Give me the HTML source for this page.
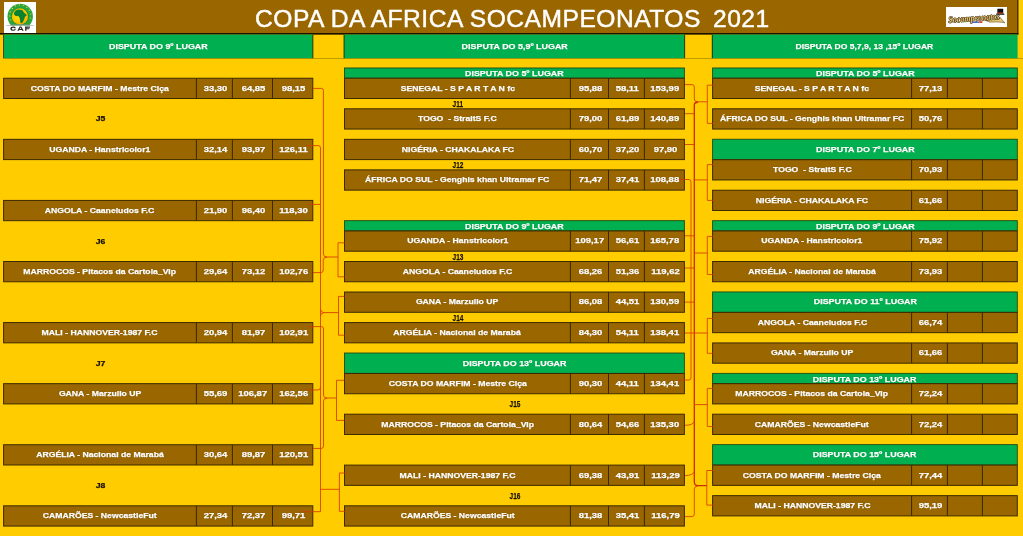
<!DOCTYPE html><html><head><meta charset="utf-8"><title>Copa da Africa</title><style>
html,body{margin:0;padding:0}
body{width:1023px;height:536px;position:relative;overflow:hidden;background:#FFCC00;font-family:"Liberation Sans",sans-serif}
.b,.r,.g,.v,.t,.j,.lg,.cn,.title{position:absolute}
.r{background:#996600;box-sizing:border-box;border:1px solid #3d2a00}
.g{background:#00B050;box-sizing:border-box;border:1px solid #2d5a10;border-bottom:none}
.v{width:1px;background:#3d2a00}
.t{color:#fff;font-weight:bold;font-size:8px;-webkit-text-stroke:0.25px #fff;text-align:center;white-space:nowrap;text-shadow:0 0 1px rgba(70,45,0,.55)}
.t span,.j span{display:inline-block;transform:scaleX(1.082);transform-origin:50% 50%}
.t.n{font-size:7.9px}
.t.n span{transform:translateX(0.6px) scaleX(1.2)}
.t.s,.t.h{text-shadow:0 0 1px rgba(0,60,20,.5)}
.t.s span,.t.h span{transform:scaleX(1.113)}
.t.h.w span{transform:scaleX(1.07)}
.j.jn{font-size:9px}
.j.jn span{transform:translateX(0.5px) scaleX(0.72)}
.j{-webkit-text-stroke:0.25px #1a1200;color:#1a1200;font-weight:bold;font-size:8px;text-align:center;white-space:nowrap}
.title{top:0;height:34px;line-height:37px;text-align:left;color:#fff;font-size:24.6px;letter-spacing:0.5px;white-space:nowrap;-webkit-text-stroke:0.45px #fff}
.sc{position:absolute;left:944.5px;top:13.2px;width:58px;height:11px;line-height:11px;font-family:"Liberation Serif",serif;font-weight:bold;font-style:italic;font-size:9px;color:#e6c678;white-space:nowrap;transform:rotate(-4.2deg) scaleX(0.88);transform-origin:50% 50%;text-shadow:0.5px 0 0 #4a3818,-0.5px 0 0 #4a3818,0 0.5px 0 #4a3818,0 -0.5px 0 #4a3818,0.4px 0.4px 0 #4a3818,-0.4px -0.4px 0 #4a3818}
.cn{left:0;top:0}
.tx{position:absolute;left:0;top:0;width:1023px;height:536px;will-change:transform}
.sh rect.r{fill:#996600;stroke:#3c2a00;stroke-width:1}
.sh rect.g{fill:#00B050;stroke:#1f4a14;stroke-width:0.9}
.sh path.v{stroke:#3a2800;stroke-width:1;fill:none}
.cn path{fill:none;stroke:#D63A00;stroke-width:0.85}
.cn path.m{stroke:#CC3000;stroke-width:1.35}
</style></head><body>

<svg class="cn sh" width="1023" height="536" viewBox="0 0 1023 536"><rect x="0" y="0" width="1017.9" height="33.3" fill="#996600"/><rect x="0" y="33" width="1018.4" height="1.65" fill="#1a1200"/><rect x="1017.4" y="0" width="1" height="34.6" fill="#1a1200"/><rect x="3" y="34.4" width="1" height="24" fill="#4a4418"/><rect x="4" y="34.6" width="308.8" height="23.7" fill="#00B050"/><rect x="344" y="34.6" width="340.6" height="23.7" fill="#00B050"/><rect x="712" y="34.6" width="305.6" height="23.7" fill="#00B050"/><rect x="312.4" y="34.8" width="0.9" height="23.5" fill="#1c2806"/><rect x="343.6" y="34.8" width="0.9" height="23.5" fill="#1c2806"/><rect x="684.2" y="34.8" width="0.9" height="23.5" fill="#1c2806"/><rect x="711.8" y="34.8" width="0.9" height="23.5" fill="#1c2806"/><rect x="4" y="58.1" width="1019" height="0.8" fill="rgba(110,95,0,.55)"/><rect class="r" x="3.60" y="78.26" width="309.20" height="20.26"/><path class="v" d="M196.40,78.26 V98.52"/><path class="v" d="M232.40,78.26 V98.52"/><path class="v" d="M272.50,78.26 V98.52"/><rect class="r" x="3.60" y="139.34" width="309.20" height="20.26"/><path class="v" d="M196.40,139.34 V159.60"/><path class="v" d="M232.40,139.34 V159.60"/><path class="v" d="M272.50,139.34 V159.60"/><rect class="r" x="3.60" y="200.42" width="309.20" height="20.26"/><path class="v" d="M196.40,200.42 V220.68"/><path class="v" d="M232.40,200.42 V220.68"/><path class="v" d="M272.50,200.42 V220.68"/><rect class="r" x="3.60" y="261.50" width="309.20" height="20.26"/><path class="v" d="M196.40,261.50 V281.76"/><path class="v" d="M232.40,261.50 V281.76"/><path class="v" d="M272.50,261.50 V281.76"/><rect class="r" x="3.60" y="322.58" width="309.20" height="20.26"/><path class="v" d="M196.40,322.58 V342.84"/><path class="v" d="M232.40,322.58 V342.84"/><path class="v" d="M272.50,322.58 V342.84"/><rect class="r" x="3.60" y="383.66" width="309.20" height="20.26"/><path class="v" d="M196.40,383.66 V403.92"/><path class="v" d="M232.40,383.66 V403.92"/><path class="v" d="M272.50,383.66 V403.92"/><rect class="r" x="3.60" y="444.74" width="309.20" height="20.26"/><path class="v" d="M196.40,444.74 V465.00"/><path class="v" d="M232.40,444.74 V465.00"/><path class="v" d="M272.50,444.74 V465.00"/><rect class="r" x="3.60" y="505.82" width="309.20" height="20.26"/><path class="v" d="M196.40,505.82 V526.08"/><path class="v" d="M232.40,505.82 V526.08"/><path class="v" d="M272.50,505.82 V526.08"/><rect class="g" x="344.50" y="67.98" width="339.90" height="10.18"/><rect class="r" x="344.50" y="78.26" width="339.90" height="20.26"/><path class="v" d="M570.40,78.26 V98.52"/><path class="v" d="M608.50,78.26 V98.52"/><path class="v" d="M644.40,78.26 V98.52"/><rect class="r" x="344.50" y="108.80" width="339.90" height="20.26"/><path class="v" d="M570.40,108.80 V129.06"/><path class="v" d="M608.50,108.80 V129.06"/><path class="v" d="M644.40,108.80 V129.06"/><rect class="r" x="344.50" y="139.34" width="339.90" height="20.26"/><path class="v" d="M570.40,139.34 V159.60"/><path class="v" d="M608.50,139.34 V159.60"/><path class="v" d="M644.40,139.34 V159.60"/><rect class="r" x="344.50" y="169.88" width="339.90" height="20.26"/><path class="v" d="M570.40,169.88 V190.14"/><path class="v" d="M608.50,169.88 V190.14"/><path class="v" d="M644.40,169.88 V190.14"/><rect class="g" x="344.50" y="220.68" width="339.90" height="10.18"/><rect class="r" x="344.50" y="230.96" width="339.90" height="20.26"/><path class="v" d="M570.40,230.96 V251.22"/><path class="v" d="M608.50,230.96 V251.22"/><path class="v" d="M644.40,230.96 V251.22"/><rect class="r" x="344.50" y="261.50" width="339.90" height="20.26"/><path class="v" d="M570.40,261.50 V281.76"/><path class="v" d="M608.50,261.50 V281.76"/><path class="v" d="M644.40,261.50 V281.76"/><rect class="r" x="344.50" y="292.04" width="339.90" height="20.26"/><path class="v" d="M570.40,292.04 V312.30"/><path class="v" d="M608.50,292.04 V312.30"/><path class="v" d="M644.40,292.04 V312.30"/><rect class="r" x="344.50" y="322.58" width="339.90" height="20.26"/><path class="v" d="M570.40,322.58 V342.84"/><path class="v" d="M608.50,322.58 V342.84"/><path class="v" d="M644.40,322.58 V342.84"/><rect class="g" x="344.50" y="353.02" width="339.90" height="20.36"/><rect class="r" x="344.50" y="373.48" width="339.90" height="20.26"/><path class="v" d="M570.40,373.48 V393.74"/><path class="v" d="M608.50,373.48 V393.74"/><path class="v" d="M644.40,373.48 V393.74"/><rect class="r" x="344.50" y="414.20" width="339.90" height="20.26"/><path class="v" d="M570.40,414.20 V434.46"/><path class="v" d="M608.50,414.20 V434.46"/><path class="v" d="M644.40,414.20 V434.46"/><rect class="r" x="344.50" y="465.10" width="339.90" height="20.26"/><path class="v" d="M570.40,465.10 V485.36"/><path class="v" d="M608.50,465.10 V485.36"/><path class="v" d="M644.40,465.10 V485.36"/><rect class="r" x="344.50" y="505.82" width="339.90" height="20.26"/><path class="v" d="M570.40,505.82 V526.08"/><path class="v" d="M608.50,505.82 V526.08"/><path class="v" d="M644.40,505.82 V526.08"/><rect class="g" x="712.60" y="67.98" width="304.70" height="10.18"/><rect class="r" x="712.60" y="78.26" width="304.70" height="20.26"/><path class="v" d="M911.60,78.26 V98.52"/><path class="v" d="M947.40,78.26 V98.52"/><path class="v" d="M982.40,78.26 V98.52"/><rect class="r" x="712.60" y="108.80" width="304.70" height="20.26"/><path class="v" d="M911.60,108.80 V129.06"/><path class="v" d="M947.40,108.80 V129.06"/><path class="v" d="M982.40,108.80 V129.06"/><rect class="g" x="712.60" y="139.24" width="304.70" height="20.36"/><rect class="r" x="712.60" y="159.70" width="304.70" height="20.26"/><path class="v" d="M911.60,159.70 V179.96"/><path class="v" d="M947.40,159.70 V179.96"/><path class="v" d="M982.40,159.70 V179.96"/><rect class="r" x="712.60" y="190.24" width="304.70" height="20.26"/><path class="v" d="M911.60,190.24 V210.50"/><path class="v" d="M947.40,190.24 V210.50"/><path class="v" d="M982.40,190.24 V210.50"/><rect class="g" x="712.60" y="220.68" width="304.70" height="10.18"/><rect class="r" x="712.60" y="230.96" width="304.70" height="20.26"/><path class="v" d="M911.60,230.96 V251.22"/><path class="v" d="M947.40,230.96 V251.22"/><path class="v" d="M982.40,230.96 V251.22"/><rect class="r" x="712.60" y="261.50" width="304.70" height="20.26"/><path class="v" d="M911.60,261.50 V281.76"/><path class="v" d="M947.40,261.50 V281.76"/><path class="v" d="M982.40,261.50 V281.76"/><rect class="g" x="712.60" y="291.94" width="304.70" height="20.36"/><rect class="r" x="712.60" y="312.40" width="304.70" height="20.26"/><path class="v" d="M911.60,312.40 V332.66"/><path class="v" d="M947.40,312.40 V332.66"/><path class="v" d="M982.40,312.40 V332.66"/><rect class="r" x="712.60" y="342.94" width="304.70" height="20.26"/><path class="v" d="M911.60,342.94 V363.20"/><path class="v" d="M947.40,342.94 V363.20"/><path class="v" d="M982.40,342.94 V363.20"/><rect class="g" x="712.60" y="373.38" width="304.70" height="10.18"/><rect class="r" x="712.60" y="383.66" width="304.70" height="20.26"/><path class="v" d="M911.60,383.66 V403.92"/><path class="v" d="M947.40,383.66 V403.92"/><path class="v" d="M982.40,383.66 V403.92"/><rect class="r" x="712.60" y="414.20" width="304.70" height="20.26"/><path class="v" d="M911.60,414.20 V434.46"/><path class="v" d="M947.40,414.20 V434.46"/><path class="v" d="M982.40,414.20 V434.46"/><rect class="g" x="712.60" y="444.64" width="304.70" height="20.36"/><rect class="r" x="712.60" y="465.10" width="304.70" height="20.26"/><path class="v" d="M911.60,465.10 V485.36"/><path class="v" d="M947.40,465.10 V485.36"/><path class="v" d="M982.40,465.10 V485.36"/><rect class="r" x="712.60" y="495.64" width="304.70" height="20.26"/><path class="v" d="M911.60,495.64 V515.90"/><path class="v" d="M947.40,495.64 V515.90"/><path class="v" d="M982.40,495.64 V515.90"/></svg>
<svg class="cn" width="1023" height="536" viewBox="0 0 1023 536"><path d="M313,88.4 H321.5 Q323.4,88.4 323.4,90.5 V254 Q323.4,257 327,257 H338"/><path d="M313,272.6 H321 Q323.2,272.6 323.2,270 V260 Q323.2,257.2 327,257.2"/><path d="M344.5,242.8 H338 V276.8 H344.5"/><path d="M308,145.6 H318.5 Q320.5,145.6 320.5,148 V327"/><path d="M308,204.4 H320.5"/><path d="M320.5,309 Q320.5,312.6 324,312.6 H338.5"/><path d="M320.5,316 Q320.5,312.8 324,312.8"/><path d="M344.5,296.4 H338.5 V335.2 H344.5"/><path d="M308,326.6 H321.5 Q323.5,326.6 323.5,329 V395 Q323.5,398 327,398 H336.5"/><path d="M320.5,327 V511.7 H302"/><path d="M308,390 H318 Q320.5,390 320.5,387"/><path d="M313,448.4 H321.5 Q323.5,448.4 323.5,446 V401 Q323.5,398.3 327,398.3"/><path d="M344.5,380.3 H336.5 V420.4 H344.5"/><path d="M320.6,489.3 H339.4"/><path d="M346,473 H339.4 V511.3 H346"/><path d="M685,84.6 H692 Q694.3,84.6 694.3,87 V99 Q694.3,101.8 698,101.8 H707.3"/><path class="m" d="M698,102.2 Q694.3,102.2 694.3,105 V482 Q694.3,485.6 698,485.6 H706.8"/><path d="M685,113.7 H694.3"/><path d="M685,144.5 H694.3"/><path d="M713.4,85.2 H707.3 V123.4 H713.4"/><path d="M694.3,179.9 H707.3"/><path d="M713.4,164.6 H707.3 V200.4 H713.4"/><path d="M678.4,179.5 H689 Q691,179.5 691,182 V378 Q691,380 689,380 H678.4"/><path d="M685,235.8 H694.3"/><path d="M694.3,253 H707.3"/><path d="M713.4,236.4 H707.3 V274.5 H713.4"/><path d="M685,268 H694.3"/><path d="M685,302.1 H694.3"/><path d="M685,333 H707.3"/><path d="M713.4,318.4 H707.3 V353.3 H713.4"/><path d="M694.3,404.6 H707.3"/><path d="M713.4,388.4 H707.3 V426.5 H713.4"/><path d="M685,425.3 Q693,425.2 694.3,421.5"/><path d="M685,475.6 Q693,475.4 694.3,471.5"/><path d="M685,516.6 H692 Q694.3,516.6 694.3,514 V489 Q694.3,486 698,486"/><path d="M713.4,470.5 H706.8 V505.1 H713.4"/></svg>
<svg class="lg" style="left:3.9px;top:2px" width="32" height="31" viewBox="0 0 320 310">
<defs><radialGradient id="gg" cx="0.45" cy="0.45" r="0.6"><stop offset="0" stop-color="#ffe600"/><stop offset="0.7" stop-color="#f7c400"/><stop offset="1" stop-color="#e59a00"/></radialGradient>
<clipPath id="cc"><rect x="0" y="0" width="320" height="236"/></clipPath></defs>
<rect width="320" height="310" fill="#fff"/>
<g clip-path="url(#cc)"><circle cx="162" cy="144" r="127" fill="#2aa63c"/><circle cx="66.8" cy="178.4" r="7" fill="#d8d13a"/><circle cx="57.1" cy="139.5" r="7" fill="#d8d13a"/><circle cx="62.7" cy="99.8" r="7" fill="#d8d13a"/><circle cx="82.8" cy="65.1" r="7" fill="#d8d13a"/><circle cx="114.3" cy="40.4" r="7" fill="#d8d13a"/><circle cx="152.8" cy="29.4" r="7" fill="#d8d13a"/><circle cx="192.7" cy="33.6" r="7" fill="#d8d13a"/><circle cx="228.1" cy="52.4" r="7" fill="#d8d13a"/><circle cx="253.8" cy="83.1" r="7" fill="#d8d13a"/><circle cx="266.2" cy="121.2" r="7" fill="#d8d13a"/><circle cx="263.4" cy="161.2" r="7" fill="#d8d13a"/>
<circle cx="160" cy="145" r="90" fill="#159238"/>
<circle cx="160" cy="145" r="82" fill="url(#gg)"/>
<path d="M105,97 Q120,78 142,74 L182,80 Q194,92 198,106 L228,130 Q224,142 209,148 Q206,166 199,181 Q192,202 179,212 Q166,212 162,200 Q162,180 156,161 Q150,146 142,141 Q124,144 112,138 Q100,130 99,118 Z" fill="#0b8230"/>
</g>
<path d="M22,236 Q160,214 300,236 Q160,226 22,236 Z" fill="#8a8a8a" stroke="#9a9a9a" stroke-width="3"/>
<g fill="#2e2724" fill-rule="evenodd"><path d="M120,259 Q109,246 92,246 Q64,246 64,267 Q64,288 92,288 Q109,288 120,275 L108,269 Q102,277 92,277 Q78,277 78,267 Q78,257 92,257 Q102,257 108,265 Z"/><path d="M133,288 L157,246 L173,246 L197,288 L182,288 L178,279 L152,279 L148,288 Z M157,269 L173,269 L165,254 Z"/><path d="M211,246 L260,246 L260,257 L225,257 L225,263 L254,263 L254,273 L225,273 L225,288 L211,288 Z"/></g>
</svg>
<svg class="lg" style="left:946px;top:7.1px" width="61" height="20.3" viewBox="0 0 865 288">
<rect width="865" height="288" fill="#fff"/>
<path d="M560,190 Q700,170 770,150 Q800,190 835,225 Q760,205 620,215 Z" fill="#e6c877" stroke="#5a4520" stroke-width="8"/>

<rect x="728" y="24" width="84" height="70" rx="6" fill="#0c0c0c"/><rect x="710" y="92" width="118" height="18" rx="8" fill="#0c0c0c"/><rect x="732" y="78" width="76" height="14" fill="#e03010"/>
<rect x="350" y="206" width="122" height="20" fill="#3a62d0"/><rect x="472" y="201" width="44" height="25" fill="#e03818"/>
</svg>
<div class="tx">
<div class="t h" style="left:4px;top:34.5px;width:308.8px;height:23.5px;line-height:23.5px;"><span>DISPUTA DO 9º LUGAR</span></div>
<div class="t h" style="left:344px;top:34.5px;width:340.6px;height:23.5px;line-height:23.5px;"><span>DISPUTA DO 5,9º LUGAR</span></div>
<div class="t h w" style="left:712px;top:34.5px;width:305.6px;height:23.5px;line-height:23.5px;"><span>DISPUTA DO 5,7,9, 13 ,15º LUGAR</span></div>
<div class="title" style="left:255px;width:446px">COPA DA AFRICA SOCAMPEONATOS</div>
<div class="title" style="left:713px;width:54px">2021</div>
<div class="t" style="left:3.6px;top:78.66px;width:192.8px;height:20.86px;line-height:20.86px;"><span>COSTA DO MARFIM - Mestre Ciça</span></div>
<div class="t n" style="left:196.4px;top:78.66px;width:36.0px;height:20.86px;line-height:20.86px;"><span>33,30</span></div>
<div class="t n" style="left:232.4px;top:78.66px;width:40.1px;height:20.86px;line-height:20.86px;"><span>64,85</span></div>
<div class="t n" style="left:272.5px;top:78.66px;width:40.5px;height:20.86px;line-height:20.86px;"><span>98,15</span></div>
<div class="t" style="left:3.6px;top:139.74px;width:192.8px;height:20.86px;line-height:20.86px;"><span>UGANDA - Hanstricolor1</span></div>
<div class="t n" style="left:196.4px;top:139.74px;width:36.0px;height:20.86px;line-height:20.86px;"><span>32,14</span></div>
<div class="t n" style="left:232.4px;top:139.74px;width:40.1px;height:20.86px;line-height:20.86px;"><span>93,97</span></div>
<div class="t n" style="left:272.5px;top:139.74px;width:40.5px;height:20.86px;line-height:20.86px;"><span>126,11</span></div>
<div class="t" style="left:3.6px;top:200.82px;width:192.8px;height:20.86px;line-height:20.86px;"><span>ANGOLA - Caaneludos F.C</span></div>
<div class="t n" style="left:196.4px;top:200.82px;width:36.0px;height:20.86px;line-height:20.86px;"><span>21,90</span></div>
<div class="t n" style="left:232.4px;top:200.82px;width:40.1px;height:20.86px;line-height:20.86px;"><span>96,40</span></div>
<div class="t n" style="left:272.5px;top:200.82px;width:40.5px;height:20.86px;line-height:20.86px;"><span>118,30</span></div>
<div class="t" style="left:3.6px;top:261.9px;width:192.8px;height:20.86px;line-height:20.86px;"><span>MARROCOS - Pitacos da Cartola_Vip</span></div>
<div class="t n" style="left:196.4px;top:261.9px;width:36.0px;height:20.86px;line-height:20.86px;"><span>29,64</span></div>
<div class="t n" style="left:232.4px;top:261.9px;width:40.1px;height:20.86px;line-height:20.86px;"><span>73,12</span></div>
<div class="t n" style="left:272.5px;top:261.9px;width:40.5px;height:20.86px;line-height:20.86px;"><span>102,76</span></div>
<div class="t" style="left:3.6px;top:322.98px;width:192.8px;height:20.86px;line-height:20.86px;"><span>MALI - HANNOVER-1987 F.C</span></div>
<div class="t n" style="left:196.4px;top:322.98px;width:36.0px;height:20.86px;line-height:20.86px;"><span>20,94</span></div>
<div class="t n" style="left:232.4px;top:322.98px;width:40.1px;height:20.86px;line-height:20.86px;"><span>81,97</span></div>
<div class="t n" style="left:272.5px;top:322.98px;width:40.5px;height:20.86px;line-height:20.86px;"><span>102,91</span></div>
<div class="t" style="left:3.6px;top:384.06px;width:192.8px;height:20.86px;line-height:20.86px;"><span>GANA - Marzullo UP</span></div>
<div class="t n" style="left:196.4px;top:384.06px;width:36.0px;height:20.86px;line-height:20.86px;"><span>55,69</span></div>
<div class="t n" style="left:232.4px;top:384.06px;width:40.1px;height:20.86px;line-height:20.86px;"><span>106,87</span></div>
<div class="t n" style="left:272.5px;top:384.06px;width:40.5px;height:20.86px;line-height:20.86px;"><span>162,56</span></div>
<div class="t" style="left:3.6px;top:445.14px;width:192.8px;height:20.86px;line-height:20.86px;"><span>ARGÉLIA - Nacional de Marabá</span></div>
<div class="t n" style="left:196.4px;top:445.14px;width:36.0px;height:20.86px;line-height:20.86px;"><span>30,64</span></div>
<div class="t n" style="left:232.4px;top:445.14px;width:40.1px;height:20.86px;line-height:20.86px;"><span>89,87</span></div>
<div class="t n" style="left:272.5px;top:445.14px;width:40.5px;height:20.86px;line-height:20.86px;"><span>120,51</span></div>
<div class="t" style="left:3.6px;top:506.22px;width:192.8px;height:20.86px;line-height:20.86px;"><span>CAMARÕES - NewcastleFut</span></div>
<div class="t n" style="left:196.4px;top:506.22px;width:36.0px;height:20.86px;line-height:20.86px;"><span>27,34</span></div>
<div class="t n" style="left:232.4px;top:506.22px;width:40.1px;height:20.86px;line-height:20.86px;"><span>72,37</span></div>
<div class="t n" style="left:272.5px;top:506.22px;width:40.5px;height:20.86px;line-height:20.86px;"><span>99,71</span></div>
<div class="j" style="left:3.6px;top:113.38px;width:192.8px;height:12.0px;line-height:12.0px;"><span>J5</span></div>
<div class="j" style="left:3.6px;top:235.54px;width:192.8px;height:12.0px;line-height:12.0px;"><span>J6</span></div>
<div class="j" style="left:3.6px;top:357.7px;width:192.8px;height:12.0px;line-height:12.0px;"><span>J7</span></div>
<div class="j" style="left:3.6px;top:479.86px;width:192.8px;height:12.0px;line-height:12.0px;"><span>J8</span></div>
<div class="t s" style="left:344.5px;top:69.18px;width:340.1px;height:10.18px;line-height:10.18px;"><span>DISPUTA DO 5º LUGAR</span></div>
<div class="t" style="left:344.5px;top:78.66px;width:225.9px;height:20.86px;line-height:20.86px;"><span>SENEGAL - S P A R T A N fc</span></div>
<div class="t n" style="left:570.4px;top:78.66px;width:38.1px;height:20.86px;line-height:20.86px;"><span>95,88</span></div>
<div class="t n" style="left:608.5px;top:78.66px;width:35.9px;height:20.86px;line-height:20.86px;"><span>58,11</span></div>
<div class="t n" style="left:644.4px;top:78.66px;width:40.2px;height:20.86px;line-height:20.86px;"><span>153,99</span></div>
<div class="j jn" style="left:344.5px;top:98.11px;width:225.9px;height:12.0px;line-height:12.0px;"><span>J11</span></div>
<div class="t" style="left:344.5px;top:109.2px;width:225.9px;height:20.86px;line-height:20.86px;"><span>TOGO&nbsp; - StraitS F.C</span></div>
<div class="t n" style="left:570.4px;top:109.2px;width:38.1px;height:20.86px;line-height:20.86px;"><span>79,00</span></div>
<div class="t n" style="left:608.5px;top:109.2px;width:35.9px;height:20.86px;line-height:20.86px;"><span>61,89</span></div>
<div class="t n" style="left:644.4px;top:109.2px;width:40.2px;height:20.86px;line-height:20.86px;"><span>140,89</span></div>
<div class="t" style="left:344.5px;top:139.74px;width:225.9px;height:20.86px;line-height:20.86px;"><span>NIGÉRIA - CHAKALAKA FC</span></div>
<div class="t n" style="left:570.4px;top:139.74px;width:38.1px;height:20.86px;line-height:20.86px;"><span>60,70</span></div>
<div class="t n" style="left:608.5px;top:139.74px;width:35.9px;height:20.86px;line-height:20.86px;"><span>37,20</span></div>
<div class="t n" style="left:644.4px;top:139.74px;width:40.2px;height:20.86px;line-height:20.86px;"><span>97,90</span></div>
<div class="j jn" style="left:344.5px;top:159.19px;width:225.9px;height:12.0px;line-height:12.0px;"><span>J12</span></div>
<div class="t" style="left:344.5px;top:170.28px;width:225.9px;height:20.86px;line-height:20.86px;"><span>ÁFRICA DO SUL - Genghis khan Ultramar FC</span></div>
<div class="t n" style="left:570.4px;top:170.28px;width:38.1px;height:20.86px;line-height:20.86px;"><span>71,47</span></div>
<div class="t n" style="left:608.5px;top:170.28px;width:35.9px;height:20.86px;line-height:20.86px;"><span>37,41</span></div>
<div class="t n" style="left:644.4px;top:170.28px;width:40.2px;height:20.86px;line-height:20.86px;"><span>108,88</span></div>
<div class="t s" style="left:344.5px;top:221.88px;width:340.1px;height:10.18px;line-height:10.18px;"><span>DISPUTA DO 9º LUGAR</span></div>
<div class="t" style="left:344.5px;top:231.36px;width:225.9px;height:20.86px;line-height:20.86px;"><span>UGANDA - Hanstricolor1</span></div>
<div class="t n" style="left:570.4px;top:231.36px;width:38.1px;height:20.86px;line-height:20.86px;"><span>109,17</span></div>
<div class="t n" style="left:608.5px;top:231.36px;width:35.9px;height:20.86px;line-height:20.86px;"><span>56,61</span></div>
<div class="t n" style="left:644.4px;top:231.36px;width:40.2px;height:20.86px;line-height:20.86px;"><span>165,78</span></div>
<div class="j jn" style="left:344.5px;top:250.81px;width:225.9px;height:12.0px;line-height:12.0px;"><span>J13</span></div>
<div class="t" style="left:344.5px;top:261.9px;width:225.9px;height:20.86px;line-height:20.86px;"><span>ANGOLA - Caaneludos F.C</span></div>
<div class="t n" style="left:570.4px;top:261.9px;width:38.1px;height:20.86px;line-height:20.86px;"><span>68,26</span></div>
<div class="t n" style="left:608.5px;top:261.9px;width:35.9px;height:20.86px;line-height:20.86px;"><span>51,36</span></div>
<div class="t n" style="left:644.4px;top:261.9px;width:40.2px;height:20.86px;line-height:20.86px;"><span>119,62</span></div>
<div class="t" style="left:344.5px;top:292.44px;width:225.9px;height:20.86px;line-height:20.86px;"><span>GANA - Marzullo UP</span></div>
<div class="t n" style="left:570.4px;top:292.44px;width:38.1px;height:20.86px;line-height:20.86px;"><span>86,08</span></div>
<div class="t n" style="left:608.5px;top:292.44px;width:35.9px;height:20.86px;line-height:20.86px;"><span>44,51</span></div>
<div class="t n" style="left:644.4px;top:292.44px;width:40.2px;height:20.86px;line-height:20.86px;"><span>130,59</span></div>
<div class="j jn" style="left:344.5px;top:311.89px;width:225.9px;height:12.0px;line-height:12.0px;"><span>J14</span></div>
<div class="t" style="left:344.5px;top:322.98px;width:225.9px;height:20.86px;line-height:20.86px;"><span>ARGÉLIA - Nacional de Marabá</span></div>
<div class="t n" style="left:570.4px;top:322.98px;width:38.1px;height:20.86px;line-height:20.86px;"><span>84,30</span></div>
<div class="t n" style="left:608.5px;top:322.98px;width:35.9px;height:20.86px;line-height:20.86px;"><span>54,11</span></div>
<div class="t n" style="left:644.4px;top:322.98px;width:40.2px;height:20.86px;line-height:20.86px;"><span>138,41</span></div>
<div class="t s" style="left:344.5px;top:353.52px;width:340.1px;height:20.36px;line-height:20.36px;"><span>DISPUTA DO 13º LUGAR</span></div>
<div class="t" style="left:344.5px;top:373.88px;width:225.9px;height:20.86px;line-height:20.86px;"><span>COSTA DO MARFIM - Mestre Ciça</span></div>
<div class="t n" style="left:570.4px;top:373.88px;width:38.1px;height:20.86px;line-height:20.86px;"><span>90,30</span></div>
<div class="t n" style="left:608.5px;top:373.88px;width:35.9px;height:20.86px;line-height:20.86px;"><span>44,11</span></div>
<div class="t n" style="left:644.4px;top:373.88px;width:40.2px;height:20.86px;line-height:20.86px;"><span>134,41</span></div>
<div class="j jn" style="left:344.5px;top:398.42px;width:340.1px;height:12.0px;line-height:12.0px;"><span>J15</span></div>
<div class="t" style="left:344.5px;top:414.6px;width:225.9px;height:20.86px;line-height:20.86px;"><span>MARROCOS - Pitacos da Cartola_Vip</span></div>
<div class="t n" style="left:570.4px;top:414.6px;width:38.1px;height:20.86px;line-height:20.86px;"><span>80,64</span></div>
<div class="t n" style="left:608.5px;top:414.6px;width:35.9px;height:20.86px;line-height:20.86px;"><span>54,66</span></div>
<div class="t n" style="left:644.4px;top:414.6px;width:40.2px;height:20.86px;line-height:20.86px;"><span>135,30</span></div>
<div class="t" style="left:344.5px;top:465.5px;width:225.9px;height:20.86px;line-height:20.86px;"><span>MALI - HANNOVER-1987 F.C</span></div>
<div class="t n" style="left:570.4px;top:465.5px;width:38.1px;height:20.86px;line-height:20.86px;"><span>69,38</span></div>
<div class="t n" style="left:608.5px;top:465.5px;width:35.9px;height:20.86px;line-height:20.86px;"><span>43,91</span></div>
<div class="t n" style="left:644.4px;top:465.5px;width:40.2px;height:20.86px;line-height:20.86px;"><span>113,29</span></div>
<div class="j jn" style="left:344.5px;top:490.04px;width:340.1px;height:12.0px;line-height:12.0px;"><span>J16</span></div>
<div class="t" style="left:344.5px;top:506.22px;width:225.9px;height:20.86px;line-height:20.86px;"><span>CAMARÕES - NewcastleFut</span></div>
<div class="t n" style="left:570.4px;top:506.22px;width:38.1px;height:20.86px;line-height:20.86px;"><span>81,38</span></div>
<div class="t n" style="left:608.5px;top:506.22px;width:35.9px;height:20.86px;line-height:20.86px;"><span>35,41</span></div>
<div class="t n" style="left:644.4px;top:506.22px;width:40.2px;height:20.86px;line-height:20.86px;"><span>116,79</span></div>
<div class="t s" style="left:712.6px;top:69.18px;width:304.9px;height:10.18px;line-height:10.18px;"><span>DISPUTA DO 5º LUGAR</span></div>
<div class="t" style="left:712.6px;top:78.66px;width:199.0px;height:20.86px;line-height:20.86px;"><span>SENEGAL - S P A R T A N fc</span></div>
<div class="t n" style="left:911.6px;top:78.66px;width:35.8px;height:20.86px;line-height:20.86px;"><span>77,13</span></div>
<div class="t" style="left:712.6px;top:109.2px;width:199.0px;height:20.86px;line-height:20.86px;"><span>ÁFRICA DO SUL - Genghis khan Ultramar FC</span></div>
<div class="t n" style="left:911.6px;top:109.2px;width:35.8px;height:20.86px;line-height:20.86px;"><span>50,76</span></div>
<div class="t s" style="left:712.6px;top:139.74px;width:304.9px;height:20.36px;line-height:20.36px;"><span>DISPUTA DO 7º LUGAR</span></div>
<div class="t" style="left:712.6px;top:160.1px;width:199.0px;height:20.86px;line-height:20.86px;"><span>TOGO&nbsp; - StraitS F.C</span></div>
<div class="t n" style="left:911.6px;top:160.1px;width:35.8px;height:20.86px;line-height:20.86px;"><span>70,93</span></div>
<div class="t" style="left:712.6px;top:190.64px;width:199.0px;height:20.86px;line-height:20.86px;"><span>NIGÉRIA - CHAKALAKA FC</span></div>
<div class="t n" style="left:911.6px;top:190.64px;width:35.8px;height:20.86px;line-height:20.86px;"><span>61,66</span></div>
<div class="t s" style="left:712.6px;top:221.88px;width:304.9px;height:10.18px;line-height:10.18px;"><span>DISPUTA DO 9º LUGAR</span></div>
<div class="t" style="left:712.6px;top:231.36px;width:199.0px;height:20.86px;line-height:20.86px;"><span>UGANDA - Hanstricolor1</span></div>
<div class="t n" style="left:911.6px;top:231.36px;width:35.8px;height:20.86px;line-height:20.86px;"><span>75,92</span></div>
<div class="t" style="left:712.6px;top:261.9px;width:199.0px;height:20.86px;line-height:20.86px;"><span>ARGÉLIA - Nacional de Marabá</span></div>
<div class="t n" style="left:911.6px;top:261.9px;width:35.8px;height:20.86px;line-height:20.86px;"><span>73,93</span></div>
<div class="t s" style="left:712.6px;top:292.44px;width:304.9px;height:20.36px;line-height:20.36px;"><span>DISPUTA DO 11º LUGAR</span></div>
<div class="t" style="left:712.6px;top:312.8px;width:199.0px;height:20.86px;line-height:20.86px;"><span>ANGOLA - Caaneludos F.C</span></div>
<div class="t n" style="left:911.6px;top:312.8px;width:35.8px;height:20.86px;line-height:20.86px;"><span>66,74</span></div>
<div class="t" style="left:712.6px;top:343.34px;width:199.0px;height:20.86px;line-height:20.86px;"><span>GANA - Marzullo UP</span></div>
<div class="t n" style="left:911.6px;top:343.34px;width:35.8px;height:20.86px;line-height:20.86px;"><span>61,66</span></div>
<div class="t s" style="left:712.6px;top:374.58px;width:304.9px;height:10.18px;line-height:10.18px;"><span>DISPUTA DO 13º LUGAR</span></div>
<div class="t" style="left:712.6px;top:384.06px;width:199.0px;height:20.86px;line-height:20.86px;"><span>MARROCOS - Pitacos da Cartola_Vip</span></div>
<div class="t n" style="left:911.6px;top:384.06px;width:35.8px;height:20.86px;line-height:20.86px;"><span>72,24</span></div>
<div class="t" style="left:712.6px;top:414.6px;width:199.0px;height:20.86px;line-height:20.86px;"><span>CAMARÕES - NewcastleFut</span></div>
<div class="t n" style="left:911.6px;top:414.6px;width:35.8px;height:20.86px;line-height:20.86px;"><span>72,24</span></div>
<div class="t s" style="left:712.6px;top:445.14px;width:304.9px;height:20.36px;line-height:20.36px;"><span>DISPUTA DO 15º LUGAR</span></div>
<div class="t" style="left:712.6px;top:465.5px;width:199.0px;height:20.86px;line-height:20.86px;"><span>COSTA DO MARFIM - Mestre Ciça</span></div>
<div class="t n" style="left:911.6px;top:465.5px;width:35.8px;height:20.86px;line-height:20.86px;"><span>77,44</span></div>
<div class="t" style="left:712.6px;top:496.04px;width:199.0px;height:20.86px;line-height:20.86px;"><span>MALI - HANNOVER-1987 F.C</span></div>
<div class="t n" style="left:911.6px;top:496.04px;width:35.8px;height:20.86px;line-height:20.86px;"><span>95,19</span></div>
<div class="sc">Socampeonatos</div>
</div>
</body></html>
